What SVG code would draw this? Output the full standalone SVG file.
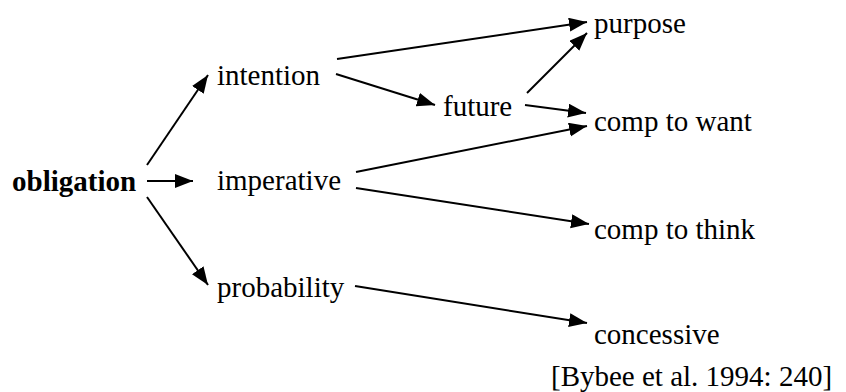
<svg xmlns="http://www.w3.org/2000/svg" width="846" height="392" viewBox="0 0 846 392">
  <style>
    .lbl { font-family: 'Liberation Serif', 'Times New Roman', Times, 'DejaVu Serif', serif; font-size: 29px; fill: #000; }
    .bold { font-weight: bold; }
    .edge { stroke: #000; stroke-width: 2; fill: none; marker-end: url(#head); }
  </style>
  <defs>
    <marker id="head" markerUnits="userSpaceOnUse" markerWidth="19" markerHeight="15" refX="18" refY="7" orient="auto">
      <path d="M0,0 L18,7 L0,14 z" fill="#000"/>
    </marker>
  </defs>
  <rect width="846" height="392" fill="#fff"/>

  <g id="connectors">
    <line class="edge" x1="147" y1="165" x2="208" y2="75"/>
    <line class="edge" x1="147" y1="181" x2="193" y2="181"/>
    <line class="edge" x1="147" y1="197" x2="208" y2="285"/>
    <line class="edge" x1="337" y1="59" x2="587" y2="22"/>
    <line class="edge" x1="336" y1="74" x2="435" y2="105"/>
    <line class="edge" x1="527" y1="93" x2="587" y2="33"/>
    <line class="edge" x1="525" y1="105" x2="586" y2="113"/>
    <line class="edge" x1="356" y1="172" x2="587" y2="126"/>
    <line class="edge" x1="356" y1="188" x2="589" y2="224"/>
    <line class="edge" x1="355" y1="286" x2="587" y2="323"/>
  </g>

  <g id="obligation"><text class="lbl bold" x="12" y="191">obligation</text></g>
  <g id="intention"><text class="lbl" x="217" y="85">intention</text></g>
  <g id="imperative"><text class="lbl" x="217" y="190">imperative</text></g>
  <g id="probability"><text class="lbl" x="217" y="297">probability</text></g>
  <g id="future"><text class="lbl" x="443" y="116">future</text></g>
  <g id="purpose"><text class="lbl" x="594" y="33">purpose</text></g>
  <g id="comp-to-want"><text class="lbl" x="594" y="131">comp to want</text></g>
  <g id="comp-to-think"><text class="lbl" x="594" y="239">comp to think</text></g>
  <g id="concessive"><text class="lbl" x="594" y="344">concessive</text></g>
  <g id="source"><text class="lbl" x="551" y="386">[Bybee et al. 1994: 240]</text></g>
</svg>
